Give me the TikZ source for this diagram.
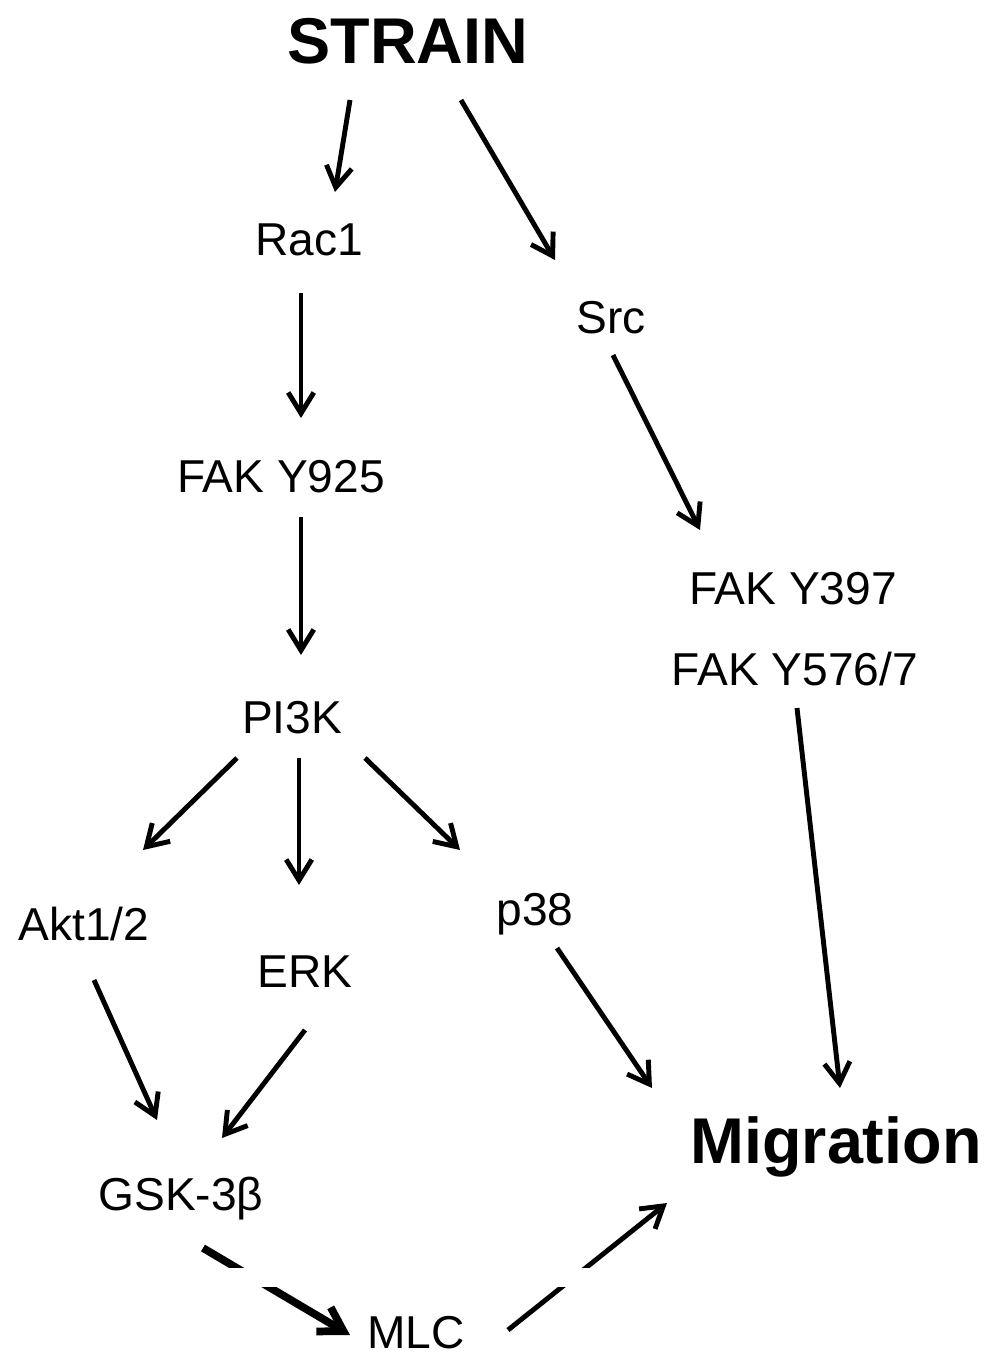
\documentclass[tikz,border=0pt]{standalone}
\usepackage{fontspec}
\setmainfont{Liberation Sans}
\usetikzlibrary{arrows.meta}
\begin{document}
\begin{tikzpicture}[x=0.025cm,y=-0.025cm,
  lbl/.style={anchor=base,inner sep=0pt,font=\fontsize{32.8}{38}\selectfont},
  head/.style={anchor=base,inner sep=0pt,font=\fontsize{46}{50}\selectfont\bfseries},
  arr/.style={line width=3.5pt,-{Straight Barb[length=0.52cm,width=0.64cm,line width=3.5pt]}},
  thickarr/.style={line width=5.5pt,-{Straight Barb[length=0.58cm,width=0.7cm,line width=5.5pt]}}]
\useasboundingbox (0,0) rectangle (990,1357);
\fill[white] (0,0) rectangle (990,1357);

% nodes, placed by their baselines
\node[head] (strain) at (408,63)  {STRAIN};
\node[lbl]  (rac)    at (309,255) {Rac1};
\node[lbl]  (src)    at (611,333) {Src};
\node[lbl]  (fak925) at (281,492) {FAK Y925};
\node[lbl]  (fak397) at (793,604) {FAK Y397};
\node[lbl]  (fak576) at (795,685) {FAK Y576/7};
\node[lbl]  (pi3k)   at (292,733) {PI3K};
\node[lbl]  (akt)    at (84,940)  {Akt1/2};
\node[lbl]  (erk)    at (305,987) {ERK};
\node[lbl]  (p38)    at (535,925) {p38};
\node[head] (mig)    at (836,1163) {Migration};
\node[lbl]  (gsk)    at (181,1210) {GSK-3β};
\node[lbl]  (mlc)    at (416,1348) {MLC};

% connectors
\draw[arr] ([shift={(-58,37)}]strain.base) -- ([shift={(26,-63)}]rac.base);
\draw[arr] ([shift={(53,37)}]strain.base)  -- ([shift={(-56,-73)}]src.base);
\draw[arr] ([shift={(-8,38)}]rac.base)     -- ([shift={(20,-74)}]fak925.base);
\draw[arr] ([shift={(2,22)}]src.base)      -- ([shift={(-93,-74)}]fak397.base);
\draw[arr] ([shift={(20,25)}]fak925.base)  -- ([shift={(9,-78)}]pi3k.base);
\draw[arr] ([shift={(-55,25)}]pi3k.base)   -- ([shift={(59,-90)}]akt.base);
\draw[arr] ([shift={(7,25)}]pi3k.base)     -- ([shift={(-6,-102)}]erk.base);
\draw[arr] ([shift={(73,25)}]pi3k.base)    -- ([shift={(-75,-75)}]p38.base);
\draw[arr] ([shift={(2,23)}]fak576.base)   -- ([shift={(4,-75)}]mig.base);
\draw[arr] ([shift={(22,23)}]p38.base)     -- ([shift={(-184,-75)}]mig.base);
\draw[arr] ([shift={(10,40)}]akt.base)     -- ([shift={(-24,-90)}]gsk.base);
\draw[arr] ([shift={(0,43)}]erk.base)      -- ([shift={(41,-72)}]gsk.base);
\draw[thickarr] ([shift={(22,38)}]gsk.base) -- ([shift={(-66,-13)}]mlc.base);
\draw[arr] ([shift={(92,-18)}]mlc.base)    -- ([shift={(-169,40)}]mig.base);

% blank strip across the two lowest connectors
\fill[white] (190,1268) rectangle (700,1287);
\end{tikzpicture}
\end{document}
